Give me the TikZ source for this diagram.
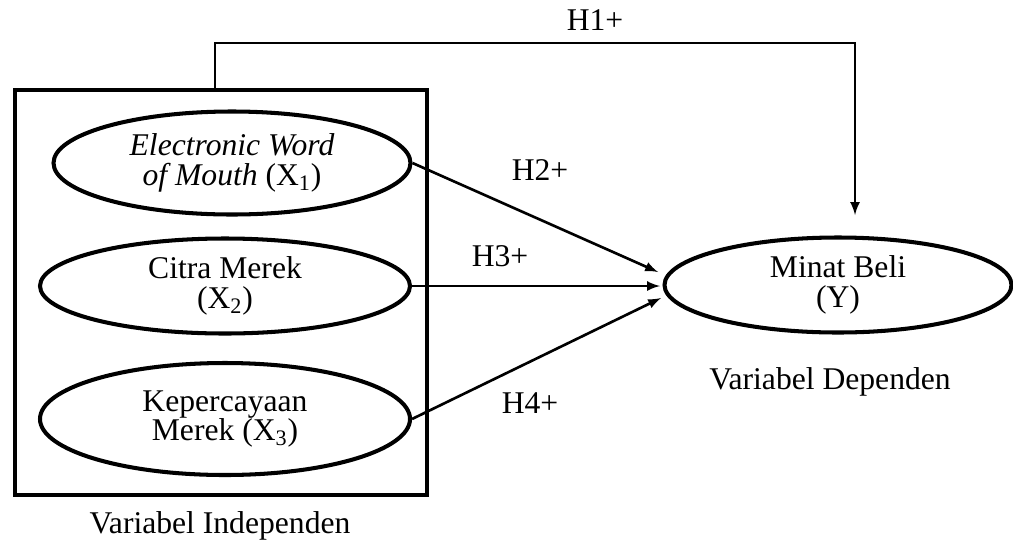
\documentclass[tikz,border=0pt]{standalone}
\usepackage{fontspec}
\setmainfont{Liberation Serif}
\usetikzlibrary{positioning}
\usetikzlibrary{shapes}
\usetikzlibrary{arrows}
\tikzset{
  every node/.style={
    align=center,
    draw=none,
    font=\fontsize{18}{17}\selectfont,
  },
  var/.style={
    draw,
    ellipse,
    line width=2.3pt,
    inner sep=0pt,
  },
  hyp/.style={
    -latex,
    line width=1.5pt,
  },
}

\begin{document}
\begin{tikzpicture}[x=0.02cm,y=-0.02cm]
    \useasboundingbox (0,0) rectangle (1013,545);
    % independent variables
    \node[draw, line width=1.9pt, minimum width=412*0.02cm, minimum height=405*0.02cm] (indep) at (221,292.5) {};
    \node[var, minimum width=357*0.02cm, minimum height=103*0.02cm] (ewom) at (232,163)
      {\textit{Electronic Word}\\\textit{of Mouth} (X\textsubscript{1})};
    \node[var, minimum width=370*0.02cm, minimum height=95*0.02cm] (citra) at (225,286)
      {Citra Merek\\(X\textsubscript{2})};
    \node[var, minimum width=370*0.02cm, minimum height=112*0.02cm] (percaya) at (225,419)
      {Kepercayaan\\Merek (X\textsubscript{3})};
    \node (lblindep) at (220,526) {Variabel Independen};
    % dependent variable
    \node[var, minimum width=347*0.02cm, minimum height=95*0.02cm] (minat) at (838,285)
      {Minat Beli\\(Y)};
    \node (lbldep) at (830,382) {Variabel Dependen};
    % paths
    \coordinate (h1top) at (215,43);
    \coordinate (h1end) at (855,215);
    \coordinate (h2end) at (658,272);
    \coordinate (h3end) at (660,286);
    \coordinate (h4end) at (661,298);
    \draw[hyp] (indep.north -| h1top) -- (h1top) -| (h1end);
    \draw[hyp] (ewom.east) -- (h2end);
    \draw[hyp] (citra.east) -- (h3end);
    \draw[hyp] (percaya.east) -- (h4end);
    \node (lblh1) at (595,20) {H1+};
    \node (lblh2) at (540,170) {H2+};
    \node (lblh3) at (500,256) {H3+};
    \node (lblh4) at (530,403) {H4+};
  \end{tikzpicture}
\end{document}
